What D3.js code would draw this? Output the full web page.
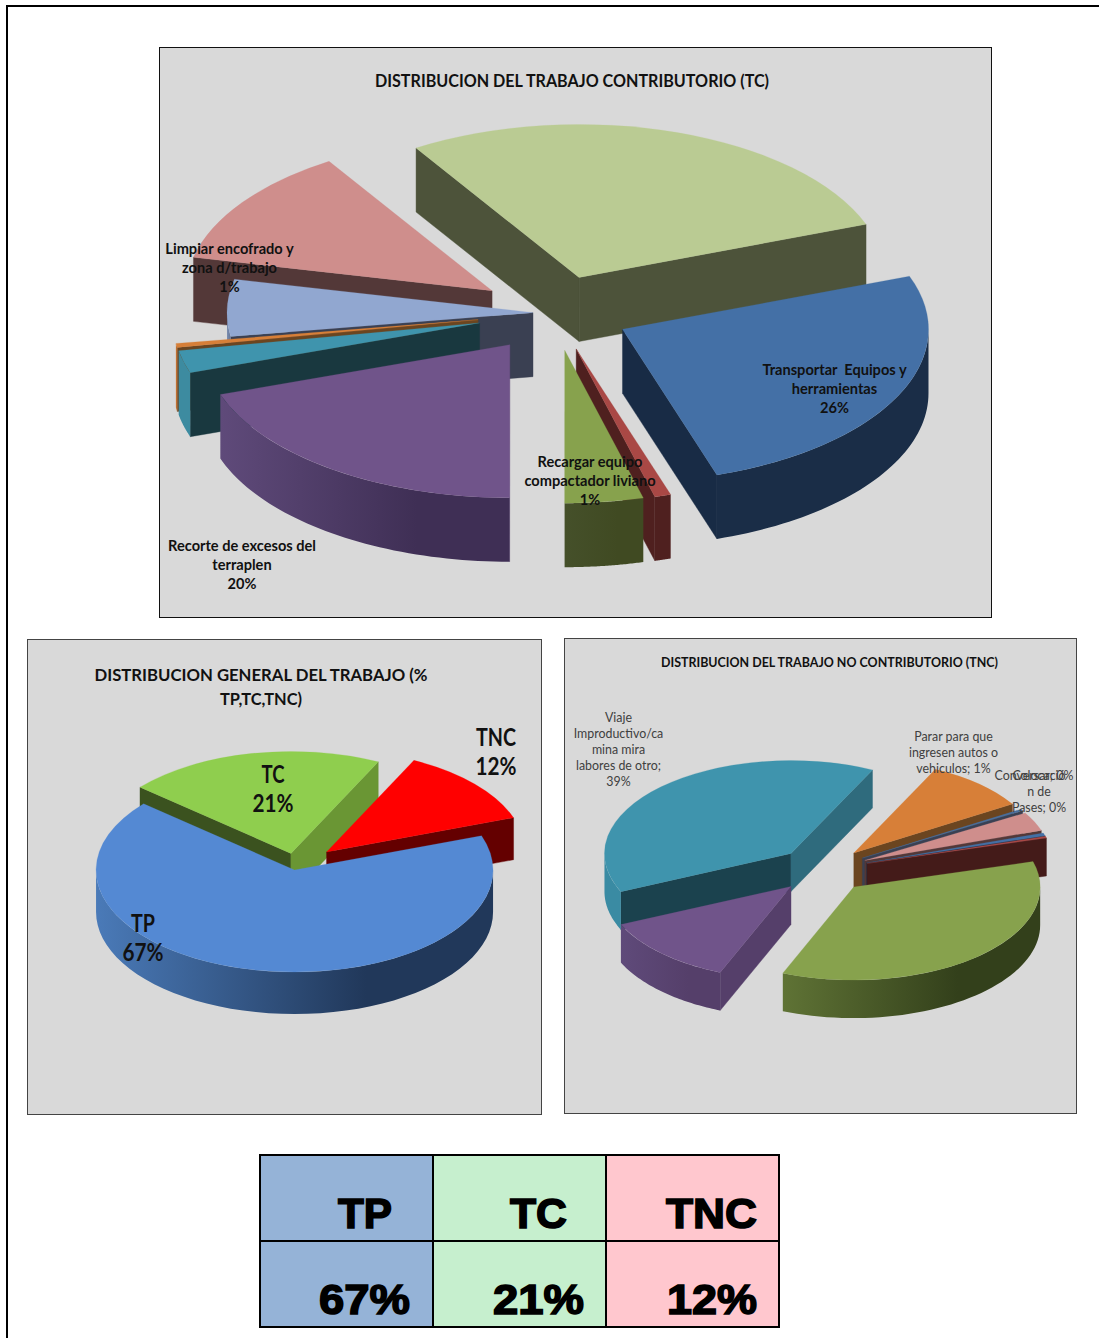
<!DOCTYPE html>
<html><head><meta charset="utf-8">
<style>html,body{margin:0;padding:0;background:#fff}svg{display:block}</style>
<script src="https://cdn.jsdelivr.net/npm/d3@7"></script>
</head><body>
<div id="chart"></div>
<script>
// ---- Chart TC ----
const tcCategories = [null, "Transportar  Equipos y herramientas", "Recargar equipo compactador liviano", null, "Recorte de excesos del terraplen", null, null, "Limpiar encofrado y zona d/trabajo", null];
const tcValues  = [28.3, 25.65, 0.86, 4.14, 19.72, 2.36, 0.42, 6, 12.55];
const tcTop     = ["#BACB93","#4470A6","#A94845","#87A24D","#70548A","#3F94AD","#D77F38","#91A7D0","#CF8E8C"];
const tcStart   = ["#4D533A","#182B45","#4F201F","#45502A","#5F4A7A","#19383F","#6B4520","#3A4052","#533838"];
const tcEnd     = ["#4D533A","#182B45","#4F201F","#404A22","#3F2F55","#19383F","#6B4520","#3A4052","#533838"];
const tcRimL    = ["#4D533A","#1A2D47","#4F201F","#45502A","#5F4A7A","#3D8BA0","#D77F38","#7A8DB0","#533838"];
const tcRimR    = ["#4D533A","#1A2D47","#4F201F","#404A22","#3F2F55","#3D8BA0","#B56A2E","#6A7C9E","#533838"];
// ---- Chart general ----
const genCategories = ["TC","TNC","TP"];
const genValues = [21, 12.3, 66.7];
const genTop    = ["#8FCE4E","#FF0000","#5489D3"];
const genStart  = ["#3B521F","#640000","#2C4A75"];
const genEnd    = ["#6A9634","#640000","#2C4A75"];
const genRimL   = ["#6A9634","#640000","#4A7AB8"];
const genRimR   = ["#6A9634","#640000","#21385A"];
// ---- Chart TNC ----
const tncCategories = ["Viaje Improductivo/camina mira labores de otro", "Parar para que ingresen autos o vehiculos", "Conversar", "Colocación de Pases", null, null, null, null];
const tncValues = [39, 9, 0.3, 3.3, 0.5, 0.3, 35.7, 12.1];
const tncTop    = ["#3F94AD","#D77F38","#4A6E9C","#CF8E8C","#4470A6","#A94845","#87A24D","#70548A"];
const tncStart  = ["#1B424E","#6B4520","#3A4052","#533838","#182B45","#441B19","#5F7335","#553F6A"];
const tncEnd    = ["#2F6B7D","#6B4520","#3A4052","#533838","#182B45","#441B19","#33401B","#553F6A"];
const tncRimL   = ["#3A8BA3","#6B4520","#3A4052","#533838","#182B45","#441B19","#5F7335","#5F4A7A"];
const tncRimR   = ["#3A8BA3","#6B4520","#3A4052","#533838","#182B45","#441B19","#33401B","#553F6A"];
// ---- Table ----
const tableHead   = ["TP","TC","TNC"];
const tablePct    = ["67%","21%","12%"];
const tableFill   = ["#95B3D7","#C6EFCE","#FFC7CE"];

const W = 1099, H = 1338, FONT = "Lato, Carlito, 'Open Sans', sans-serif";
const svg = d3.select("#chart").append("svg").attr("width",W).attr("height",H);
const defs = svg.append("defs");
svg.append("rect").attr("width",W).attr("height",H).attr("fill","#fff");
svg.append("path").attr("d",`M7,${H}V6H${W}`).attr("fill","none").attr("stroke","#000").attr("stroke-width",2);

function panel(x0,y0,x1,y1,stroke){
  svg.append("rect").attr("x",x0-.5).attr("y",y0-.5).attr("width",x1-x0+1).attr("height",y1-y0+1)
    .attr("fill","#D9D9D9").attr("stroke",stroke).attr("stroke-width",1);
}
function label(x,y,lines,size,weight,lh,fill,fit){
  lines.forEach((s,i)=>{
    const t = svg.append("text").attr("text-anchor","middle").attr("font-family",FONT)
      .attr("font-size",size).attr("font-weight",weight).attr("fill",fill||"#111")
      .attr("x",x).attr("y",y+i*lh).attr("xml:space","preserve").text(s);
    if(fit) t.attr("textLength",fit[i]).attr("lengthAdjust","spacingAndGlyphs");
  });
}
let gid = 0;
function pie3d(c){
  const rad = Math.PI/180;
  const s = c.start*rad;
  const arcs = d3.pie().sort(null).startAngle(s).endAngle(s+2*Math.PI)(c.values);
  const sx = d3.scaleLinear().domain([-1,1]).range([c.cx-c.rx,c.cx+c.rx]);
  const sy = d3.scaleLinear().domain([-1,1]).range([c.cy-c.ry,c.cy+c.ry]);
  const g = svg.append("g");
  const top = d3.arc().innerRadius(0).outerRadius(c.rx);
  c.order.forEach(i=>{
    const a = arcs[i], mid=(a.startAngle+a.endAngle)/2;
    const e = (c.explode[i]||0)/c.rx;
    const ax = sx(Math.sin(mid)*e), ay = sy(-Math.cos(mid)*e);
    const P = t=>[ax+(sx(Math.sin(t))-sx(0)), ay+(sy(-Math.cos(t))-sy(0))];
    const face = (t,col)=>{
      const p=P(t);
      g.append("path").attr("fill",col).attr("stroke",col).attr("stroke-width",.4)
       .attr("d",d3.line()([[ax,ay],p,[p[0],p[1]+c.depth],[ax,ay+c.depth]])+"Z");
    };
    if(Math.sin(a.startAngle)<-1e-6) face(a.startAngle,c.startFace[i]);
    if(Math.sin(a.endAngle)>1e-6) face(a.endAngle,c.endFace[i]);
    // outer wall: the part of the arc on the front half of the pie
    [-360,0,360].forEach(k=>{
      const lo=Math.max(a.startAngle,(90+k)*rad), hi=Math.min(a.endAngle,(270+k)*rad);
      if(hi<=lo) return;
      const id="rim"+(gid++);
      const lg=defs.append("linearGradient").attr("id",id);
      lg.append("stop").attr("offset",0).attr("stop-color",c.rimL[i]);
      lg.append("stop").attr("offset",.68).attr("stop-color",c.rimR[i]);
      lg.append("stop").attr("offset",1).attr("stop-color",c.rimR[i]);
      const ts=d3.range(0,1.0001,1/48).map(f=>lo+(hi-lo)*f);
      const area=d3.area().x(t=>P(t)[0]).y0(t=>P(t)[1]).y1(t=>P(t)[1]+c.depth);
      g.append("path").attr("fill",`url(#${id})`).attr("d",area(ts));
    });
    g.append("path").attr("fill",c.top[i]).attr("stroke",c.top[i]).attr("stroke-width",.3)
      .attr("transform",`translate(${ax},${ay}) scale(1,${c.ry/c.rx})`)
      .attr("d",top(a));
  });
}

// ---- TC panel ----
panel(160,48,991,617,"#111");
pie3d({cx:555,cy:313,rx:306,ry:153,depth:64,start:-32.2,values:tcValues,
  explode:[75,75,75,75,78,78,78,22,77],order:[8,0,7,6,5,4,1,2,3],
  top:tcTop,startFace:tcStart,endFace:tcEnd,rimL:tcRimL,rimR:tcRimR});
label(572,87,["DISTRIBUCION DEL TRABAJO CONTRIBUTORIO (TC)"],16.5,700,20,null,[394]);
label(229.5,254,["Limpiar encofrado y","zona d/trabajo","1%"],14.6,700,19.2);
label(834.5,375,["Transportar  Equipos y","herramientas","26%"],14.6,700,19.2);
label(590,467,["Recargar equipo","compactador liviano","1%"],14.6,700,19.2);
label(242,551,["Recorte de excesos del","terraplen","20%"],14.6,700,19.2);

// ---- General panel ----
panel(28,640,541,1114,"#444");
pie3d({cx:296,cy:866,rx:198.5,ry:102,depth:42,start:-49.5,values:genValues,
  explode:[25,41,8],order:[0,1,2],
  top:genTop,startFace:genStart,endFace:genEnd,rimL:genRimL,rimR:genRimR});
label(261,680.5,["DISTRIBUCION GENERAL DEL TRABAJO (%","TP,TC,TNC)"],17.5,700,24,null,[333,82]);
label(496,745.5,["TNC","12%"],24,700,29,null,[40,41]);
label(273,783,["TC","21%"],24,700,29,null,[23,41]);
label(143,931.5,["TP","67%"],24,700,29,null,[24,41]);

// ---- TNC panel ----
panel(565,639,1076,1113,"#444");
pie3d({cx:823,cy:870,rx:186.5,ry:93,depth:38,start:-114.2,values:tncValues,
  explode:[46,46,46,46,46,46,46,46],order:[0,1,2,3,4,5,7,6],
  top:tncTop,startFace:tncStart,endFace:tncEnd,rimL:tncRimL,rimR:tncRimR});
label(829.5,667,["DISTRIBUCION DEL TRABAJO NO CONTRIBUTORIO (TNC)"],13.5,700,16,null,[337]);
label(618.5,721.5,["Viaje","Improductivo/ca","mina mira","labores de otro;","39%"],12.4,400,16.2,"#404040");
label(953.5,740.5,["Parar para que","ingresen autos o","vehiculos; 1%"],12.4,400,16.4,"#404040");
label(1034,779.5,["Conversar; 0%"],12.4,400,16.2,"#404040");
label(1039,779.5,["Colocació","n de","Pases; 0%"],12.4,400,16.2,"#404040");

// ---- Table ----
const colX = d3.scaleBand().domain(d3.range(3)).range([260,779]);
const rowY = d3.scaleBand().domain(d3.range(2)).range([1155,1327]);
const headRight = [41,39,22], pctRight = [23,22,22];
const headFit = [54,57,91], pctFit = [91,91,90];
[tableHead,tablePct].forEach((row,r)=>{
  row.forEach((txt,i)=>{
    svg.append("rect").attr("x",colX(i)).attr("y",rowY(r)).attr("width",colX.bandwidth()).attr("height",rowY.bandwidth())
      .attr("fill",tableFill[i]).attr("stroke","#000").attr("stroke-width",2);
    svg.append("text").attr("x",colX(i)+colX.bandwidth()-(r?pctRight:headRight)[i]).attr("y",rowY(r)+73)
      .attr("text-anchor","end").attr("font-family","'Liberation Sans',Arial,sans-serif").attr("font-weight",700)
      .attr("font-size",43).attr("fill","#000").attr("stroke","#000").attr("stroke-width",1.6)
      .attr("textLength",(r?pctFit:headFit)[i]).attr("lengthAdjust","spacingAndGlyphs").text(txt);
  });
});
</script>
</body></html>
